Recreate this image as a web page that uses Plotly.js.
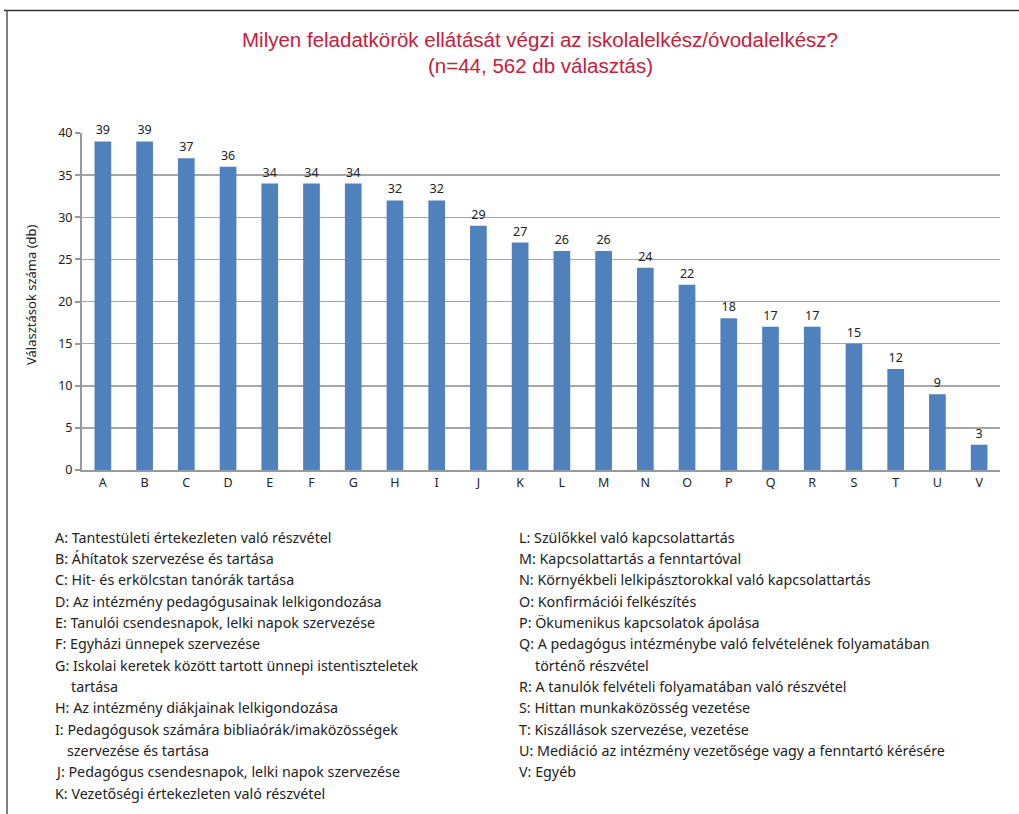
<!DOCTYPE html>
<html>
<head>
<meta charset="utf-8">
<script src="https://cdn.plot.ly/plotly-3.0.1.min.js"></script>
<style>
html,body{margin:0;padding:0;background:#fff;}
#chart{width:1019px;height:814px;}
</style>
</head>
<body>
<div id="chart"></div>
<script>
const categories = ["A","B","C","D","E","F","G","H","I","J","K","L","M","N","O","P","Q","R","S","T","U","V"];
const values = [39,39,37,36,34,34,34,32,32,29,27,26,26,24,22,18,17,17,15,12,9,3];
const titleLines = ["Milyen feladatkörök ellátását végzi az iskolalelkész/óvodalelkész?", "(n=44, 562 db választás)"];
const yTitle = "Választások száma (db)";
const leftLegend = [
  "A: Tantestületi értekezleten való részvétel",
  "B: Áhítatok szervezése és tartása",
  "C: Hit- és erkölcstan tanórák tartása",
  "D: Az intézmény pedagógusainak lelkigondozása",
  "E: Tanulói csendesnapok, lelki napok szervezése",
  "F: Egyházi ünnepek szervezése",
  "G: Iskolai keretek között tartott ünnepi istentiszteletek",
  "    tartása",
  "H: Az intézmény diákjainak lelkigondozása",
  "I: Pedagógusok számára bibliaórák/imaközösségek",
  "   szervezése és tartása",
  "J: Pedagógus csendesnapok, lelki napok szervezése",
  "K: Vezetőségi értekezleten való részvétel"
];
const rightLegend = [
  "L: Szülőkkel való kapcsolattartás",
  "M: Kapcsolattartás a fenntartóval",
  "N: Környékbeli lelkipásztorokkal való kapcsolattartás",
  "O: Konfirmációi felkészítés",
  "P: Ökumenikus kapcsolatok ápolása",
  "Q: A pedagógus intézménybe való felvételének folyamatában",
  "    történő részvétel",
  "R: A tanulók felvételi folyamatában való részvétel",
  "S: Hittan munkaközösség vezetése",
  "T: Kiszállások szervezése, vezetése",
  "U: Mediáció az intézmény vezetősége vagy a fenntartó kérésére",
  "V: Egyéb"
];

const W = 1019, H = 814;
const L = 82, R = 19, T = 133, B = 344;
const pw = W - L - R, ph = H - T - B;
const px = x => (x - L) / pw;
const py = y => (H - B - y) / ph;

const FONT = "Noto Sans, Open Sans, sans-serif";
const annotations = [];
titleLines.forEach((t, i) => {
  annotations.push({
    text: t, xref: "paper", yref: "paper", x: px(540), y: py(40 + i * 26),
    xanchor: "center", yanchor: "middle", showarrow: false,
    font: {family: "Liberation Sans Narrow, Arial Narrow, sans-serif", size: 20.5, color: "#c4203a"}
  });
});
function addLegend(lines, x0) {
  lines.forEach((t, i) => {
    const m = t.match(/^( *)(.*)$/);
    const indent = m[1].length * 4;
    annotations.push({
      text: m[2], xref: "paper", yref: "paper", x: px(x0 + indent), y: py(537 + i * 21.35),
      xanchor: "left", yanchor: "middle", showarrow: false,
      font: {family: FONT, size: 14.3, color: "#222"}
    });
  });
}
addLegend(leftLegend, 53);
addLegend(rightLegend, 517);
annotations.push({
  text: yTitle, xref: "paper", yref: "paper", x: px(31), y: py(295),
  xanchor: "center", yanchor: "middle", showarrow: false, textangle: -90,
  font: {family: FONT, size: 13, color: "#222"}
});

const data = [{
  type: "bar", x: categories, y: values,
  marker: {color: "#4f81bd", line: {width: 0}},
  width: 0.4,
  text: values.map(String), textposition: "outside", cliponaxis: false,
  textfont: {family: FONT, size: 12.5, color: "#222"},
  hoverinfo: "none"
}];

const layout = {
  width: W, height: H,
  margin: {l: L, r: R, t: T, b: B, pad: 0},
  paper_bgcolor: "#fff", plot_bgcolor: "#fff",
  showlegend: false,
  font: {family: FONT, size: 12.5, color: "#222"},
  xaxis: {
    type: "category", range: [-0.5, categories.length - 0.5],
    showline: true, linecolor: "#999", linewidth: 2,
    ticks: "", showgrid: false, tickfont: {family: FONT, size: 12.5, color: "#222"},
    fixedrange: true
  },
  yaxis: {
    range: [0, 40], dtick: 5, tick0: 0,
    showline: true, linecolor: "#999", linewidth: 2,
    ticks: "outside", ticklen: 5, tickcolor: "#999", tickwidth: 2,
    showgrid: true, gridcolor: "#a6a6a6", gridwidth: 1.5,
    zeroline: false, tickfont: {family: FONT, size: 12.5, color: "#222"},
    fixedrange: true
  },
  bargap: 0.6,
  annotations: annotations,
  shapes: [
    {type: "line", xref: "paper", yref: "paper", x0: px(4), x1: px(1019), y0: py(10.5), y1: py(10.5), line: {color: "#333", width: 1.5}},
    {type: "line", xref: "paper", yref: "paper", x0: px(7), x1: px(7), y0: py(10.5), y1: py(814), line: {color: "#555", width: 1.5}}
  ]
};

Plotly.newPlot("chart", data, layout, {displayModeBar: false, staticPlot: true});
</script>
</body>
</html>
